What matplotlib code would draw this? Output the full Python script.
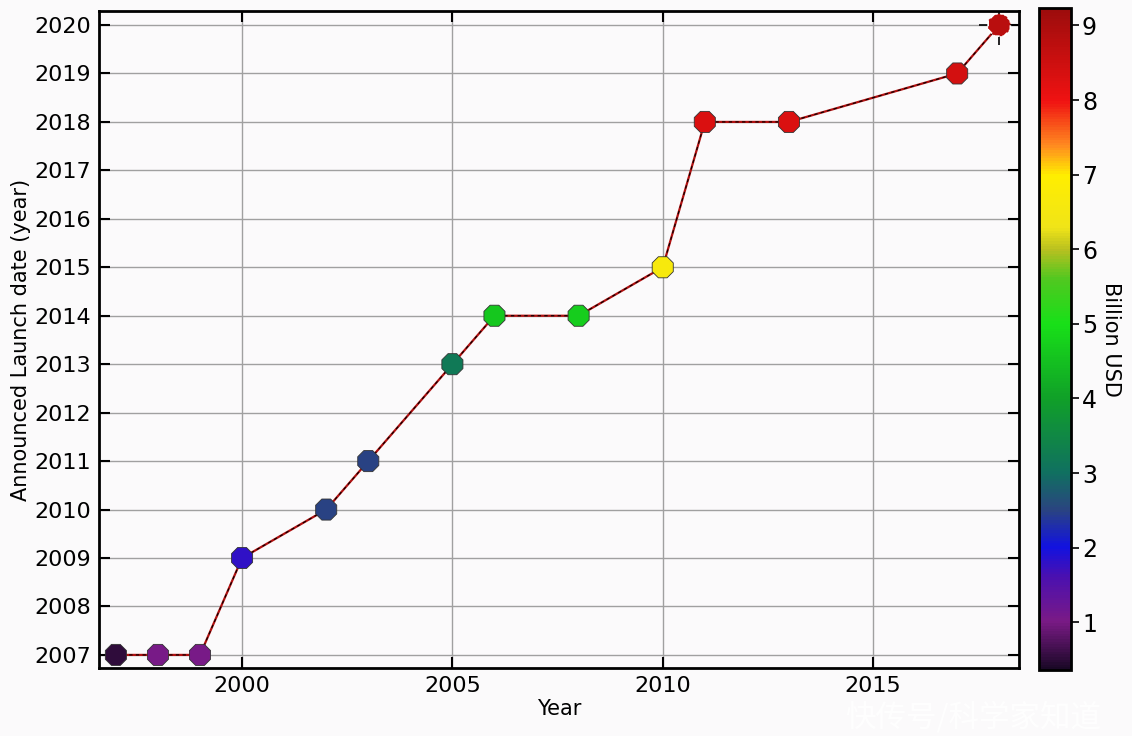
import numpy as np
import matplotlib
matplotlib.use("Agg")
import matplotlib.pyplot as plt
from matplotlib.colors import LinearSegmentedColormap, Normalize

# data
years = [1997, 1998, 1999, 2000, 2002, 2003, 2005, 2006, 2008, 2010, 2011, 2013, 2017, 2018]
launch = [2007, 2007, 2007, 2009, 2010, 2011, 2013, 2014, 2014, 2015, 2018, 2018, 2019, 2020]
cost = [0.5, 1.05, 1.05, 1.8, 2.5, 2.5, 3.2, 4.6, 4.7, 6.6, 8.3, 8.3, 8.4, 8.8]

y_ticks = list(range(2007, 2021))
x_ticks = [2000, 2005, 2010, 2015]
cb_ticks = [1, 2, 3, 4, 5, 6, 7, 8, 9]

vmin, vmax = 0.36, 9.23
stops = [(0.36, "#1a0826"), (1.0, "#7a1a86"), (1.6, "#4a10b0"), (2.0, "#1212e0"),
         (2.5, "#2a4480"), (3.0, "#107060"), (4.0, "#10a028"), (5.0, "#18e018"),
         (5.6, "#50c820"), (6.0, "#b8c020"), (6.3, "#f0e418"), (7.0, "#ffee00"),
         (7.4, "#ff8a20"), (8.0, "#f01212"), (9.23, "#9c0c0c")]
cmap = LinearSegmentedColormap.from_list(
    "launch", [((v - vmin) / (vmax - vmin), c) for v, c in stops])
norm = Normalize(vmin, vmax)

fig = plt.figure(figsize=(11.32, 7.36), dpi=100, facecolor="#fbfafb")
ax = fig.add_axes([0.0875, 0.0924, 0.8127, 0.8927])
ax.set_facecolor("#fbfafb")

ax.plot(years, launch, color="#b01010", lw=1.6, zorder=2)
ax.plot(years, launch, color="black", lw=0.8, ls=(0, (3, 3)), zorder=2)
ax.scatter(years[:-1], launch[:-1], c=cost[:-1], cmap=cmap, norm=norm, marker="8",
           s=270, edgecolors="#333333", linewidths=0.6, zorder=3)
# last point with a target marker
ax.scatter(years[-1:], launch[-1:], marker="+", s=800, color="black", linewidths=1.2, zorder=3)
ax.scatter(years[-1:], launch[-1:], c=cost[-1:], cmap=cmap, norm=norm, marker="8",
           s=300, edgecolors="white", linewidths=1.2, linestyle="--", zorder=4)

ax.set_xlim(1996.6, 2018.47)
ax.set_ylim(2006.73, 2020.29)
ax.set_xticks(x_ticks)
ax.set_yticks(y_ticks)
ax.grid(True, color="#a0a0a0", lw=1)
ax.set_axisbelow(True)
ax.tick_params(direction="in", length=8, width=1.5, top=True, right=True,
               labelsize=16, pad=6)
for s in ax.spines.values():
    s.set_linewidth(2)
ax.set_xlabel("Year", fontsize=15, labelpad=2)
ax.set_ylabel("Announced Launch date (year)", fontsize=15, labelpad=2)

cax = fig.add_axes([0.918, 0.0897, 0.028, 0.899])
sm = matplotlib.cm.ScalarMappable(norm=norm, cmap=cmap)
cb = fig.colorbar(sm, cax=cax, ticks=cb_ticks)
cb.outline.set_linewidth(2)
cax.tick_params(labelsize=17, length=6, width=1.2, pad=2)
cb.set_label("Billion USD", rotation=-90, fontsize=15, labelpad=17)

fig.text(0.86, 0.025, "快传号/科学家知道", fontsize=22, color="white", alpha=0.9,
         ha="center", va="center", family=["Noto Sans CJK SC", "DejaVu Sans"])

fig.savefig("out.png", dpi=100, facecolor=fig.get_facecolor())
